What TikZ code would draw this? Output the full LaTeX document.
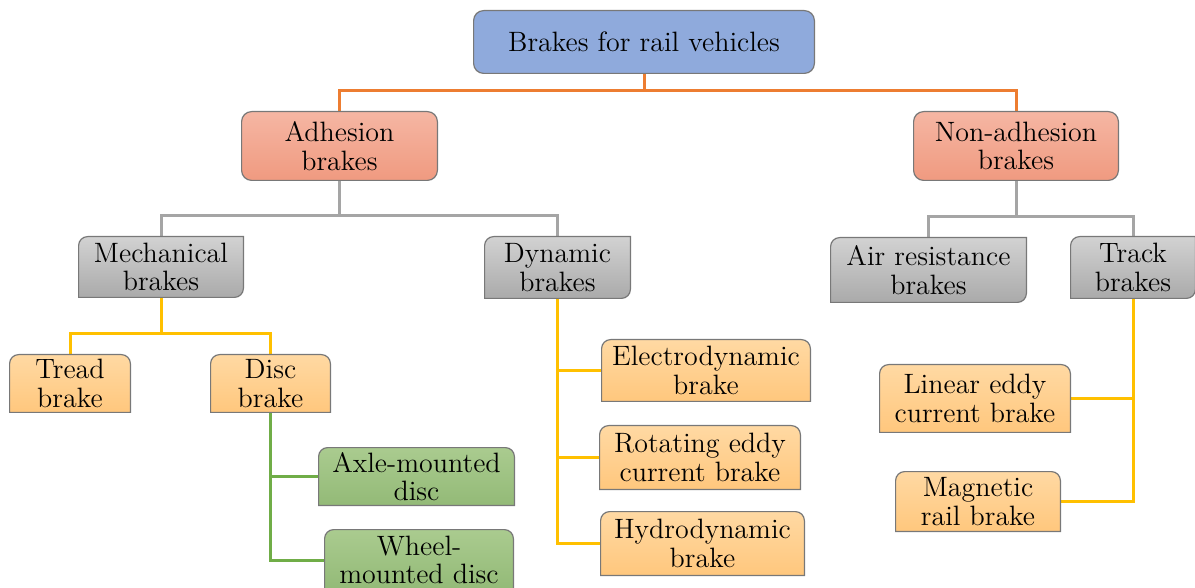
\documentclass[tikz,border=0pt]{standalone}
\usepackage{tikz}
\usetikzlibrary{backgrounds}
\definecolor{rootblue}{RGB}{143,170,220}
\definecolor{redtop}{RGB}{245,182,163}
\definecolor{redbot}{RGB}{240,154,128}
\definecolor{graytop}{RGB}{210,210,210}
\definecolor{graybot}{RGB}{170,170,170}
\definecolor{ortop}{RGB}{255,217,163}
\definecolor{orbot}{RGB}{255,199,125}
\definecolor{grtop}{RGB}{170,203,143}
\definecolor{grbot}{RGB}{147,186,119}
\definecolor{rim}{RGB}{120,120,120}
\definecolor{orangeln}{RGB}{237,125,49}
\definecolor{grayln}{RGB}{165,165,165}
\definecolor{yellowln}{RGB}{255,192,0}
\definecolor{greenln}{RGB}{112,173,71}
\tikzstyle{Lbox}=[align=center,inner sep=0pt,font=\fontsize{14}{14.2}\selectfont]
\tikzstyle{Rfill}=[draw=rim,line width=0.6pt]
\tikzstyle{orangeedge}=[draw=orangeln,line width=1.5pt]
\tikzstyle{grayedge}=[draw=grayln,line width=1.5pt]
\tikzstyle{yellowedge}=[draw=yellowln,line width=1.5pt]
\tikzstyle{greenedge}=[draw=greenln,line width=1.5pt]
% box outlines: all corners, diagonal corners, top corners rounded
\newcommand{\boxall}[2]{\path[Rfill,#2,rounded corners=5pt] (#1.south west) rectangle (#1.north east);}
\newcommand{\boxdiag}[2]{\path[Rfill,#2] ([yshift=-4.5pt]#1.north west) arc[start angle=180,end angle=90,radius=4.5pt] -- (#1.north east) -- ([yshift=4.5pt]#1.south east) arc[start angle=0,end angle=-90,radius=4.5pt] -- (#1.south west) -- cycle;}
\newcommand{\boxtop}[2]{\path[Rfill,#2] (#1.south west) -- ([yshift=-4.5pt]#1.north west) arc[start angle=180,end angle=90,radius=4.5pt] -- ([xshift=-4.5pt]#1.north east) arc[start angle=90,end angle=0,radius=4.5pt] -- (#1.south east) -- cycle;}
\begin{document}
\begin{tikzpicture}[x=0.5pt,y=0.5pt]
\useasboundingbox (0,0) rectangle (1195,-588);

\node[Lbox,minimum width=170pt,minimum height=31pt] (root) at (644,-42) {Brakes for rail vehicles};

\node[Lbox,minimum width=97.5pt,minimum height=34pt] (adh) at (339.5,-146) {Adhesion\\brakes};
\node[Lbox,minimum width=102pt,minimum height=34pt] (nonadh) at (1016,-146) {Non-adhesion\\brakes};

\node[Lbox,minimum width=82pt,minimum height=30pt] (mech) at (161,-267) {Mechanical\\brakes};
\node[Lbox,minimum width=72.5pt,minimum height=30.5pt] (dyn) at (557.5,-267.5) {Dynamic\\brakes};
\node[Lbox,minimum width=97.5pt,minimum height=32pt] (air) at (928.5,-270) {Air resistance\\brakes};
\node[Lbox,minimum width=62pt,minimum height=30.5pt] (track) at (1133,-267.5) {Track\\brakes};

\node[Lbox,minimum width=60pt,minimum height=28.5pt] (tread) at (70,-383.5) {Tread\\brake};
\node[Lbox,minimum width=59.5pt,minimum height=28.5pt] (disc) at (270.5,-383.5) {Disc\\brake};
\node[Lbox,minimum width=97.5pt,minimum height=28.5pt] (axle) at (416.5,-476.5) {Axle-mounted\\disc};
\node[Lbox,minimum width=94pt,minimum height=30pt] (wheel) at (419,-560) {Wheel-\\mounted disc};

\node[Lbox,minimum width=104pt,minimum height=30.5pt] (electro) at (706,-370.5) {Electrodynamic\\brake};
\node[Lbox,minimum width=100pt,minimum height=31.5pt] (rotating) at (700,-457.5) {Rotating eddy\\current brake};
\node[Lbox,minimum width=101.5pt,minimum height=31.5pt] (hydro) at (702.5,-543.5) {Hydrodynamic\\brake};

\node[Lbox,minimum width=95pt,minimum height=33.5pt] (linear) at (975,-398.5) {Linear eddy\\current brake};
\node[Lbox,minimum width=82pt,minimum height=29.5pt] (magnetic) at (978,-501.5) {Magnetic\\rail brake};

\begin{scope}[on background layer]
% connectors
\draw[orangeedge] (root.south) -- ++(0,-17) -| (adh.north);
\draw[orangeedge] (root.south) -- ++(0,-17) -| (nonadh.north);
\draw[grayedge] (adh.south) -- ++(0,-35) -| (mech.north);
\draw[grayedge] (adh.south) -- ++(0,-35) -| (dyn.north);
\draw[grayedge] (nonadh.south) -- ++(0,-36) -| (air.north);
\draw[grayedge] (nonadh.south) -- ++(0,-36) -| (track.north);
\draw[yellowedge] (mech.south) -- ++(0,-36) -| (tread.north);
\draw[yellowedge] (mech.south) -- ++(0,-36) -| (disc.north);
\draw[greenedge] (disc.south) |- (axle.west);
\draw[greenedge] (disc.south) |- (wheel.west);
\draw[yellowedge] (dyn.south) |- (electro.west);
\draw[yellowedge] (dyn.south) |- (rotating.west);
\draw[yellowedge] (dyn.south) |- (hydro.west);
\draw[yellowedge] (track.south) |- (linear.east);
\draw[yellowedge] (track.south) |- (magnetic.east);
% boxes
\boxall{root}{fill=rootblue}
\boxall{adh}{top color=redtop,bottom color=redbot}
\boxall{nonadh}{top color=redtop,bottom color=redbot}
\boxdiag{mech}{top color=graytop,bottom color=graybot}
\boxdiag{dyn}{top color=graytop,bottom color=graybot}
\boxdiag{air}{top color=graytop,bottom color=graybot}
\boxdiag{track}{top color=graytop,bottom color=graybot}
\boxtop{tread}{top color=ortop,bottom color=orbot}
\boxtop{disc}{top color=ortop,bottom color=orbot}
\boxtop{electro}{top color=ortop,bottom color=orbot}
\boxtop{rotating}{top color=ortop,bottom color=orbot}
\boxtop{hydro}{top color=ortop,bottom color=orbot}
\boxtop{linear}{top color=ortop,bottom color=orbot}
\boxtop{magnetic}{top color=ortop,bottom color=orbot}
\boxtop{axle}{top color=grtop,bottom color=grbot}
\boxtop{wheel}{top color=grtop,bottom color=grbot}
\end{scope}
\end{tikzpicture}
\end{document}
